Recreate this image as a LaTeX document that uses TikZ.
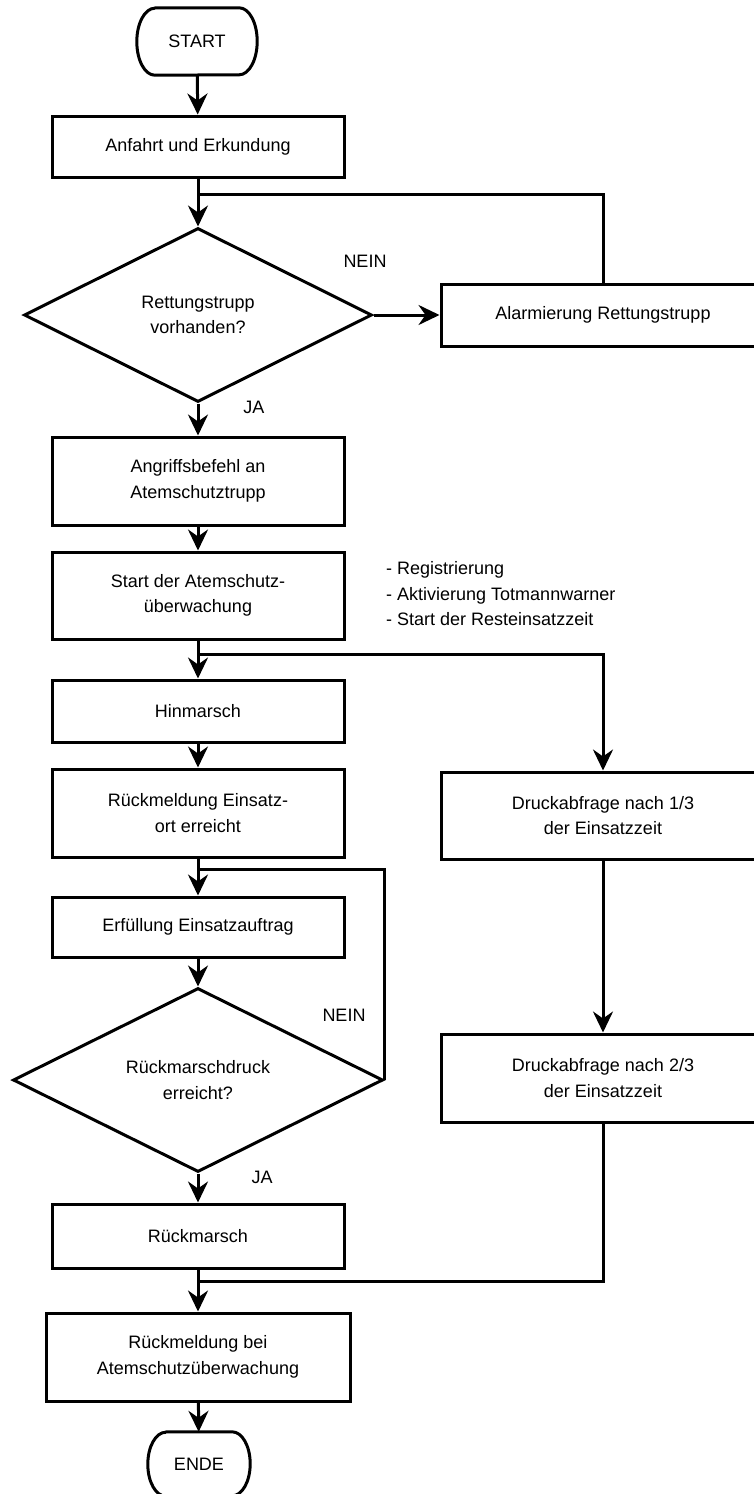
\documentclass[tikz,border=0pt]{standalone}
\usepackage{fontspec}
\setmainfont{Liberation Sans}
\usetikzlibrary{arrows.meta,shapes.geometric}
\begin{document}
\begin{tikzpicture}[x=1pt,y=-1pt,
  txt/.style={font=\fontsize{18}{25.5}\selectfont},
  box/.style={txt, draw, rectangle, line width=3pt, minimum width=292pt, inner sep=0pt, align=center},
  term/.style={txt, rectangle, inner sep=0pt},
  dec/.style={txt, draw, diamond, line width=3pt, inner sep=0pt, align=center},
  lbl/.style={txt, inner sep=0pt},
  arr/.style={-{Stealth[length=21pt,width=20pt,inset=7pt]}, line width=3pt},
  ln/.style={line width=3pt}]
\fill[white] (0,0) rectangle (754,1494);
\useasboundingbox (0,0) rectangle (754,1494);
\clip (0,0) rectangle (754,1494);

% main column
\node[term, minimum width=120pt, minimum height=67pt] (start) at (197,41.5) {START};
\node[box, minimum height=61pt] (anf) at (198,146.5) {Anfahrt und Erkundung};
\node[dec, minimum width=348pt, minimum height=174pt] (d1) at (198,315) {Rettungstrupp\\vorhanden?};
\node[box, minimum height=88pt] (ang) at (198,481) {Angriffsbefehl an\\Atemschutztrupp};
\node[box, minimum height=87pt] (sta) at (198,595.5) {Start der Atemschutz-\\überwachung};
\node[box, minimum height=62pt] (hin) at (198,711) {Hinmarsch};
\node[box, minimum height=88pt] (rme) at (198,813) {Rückmeldung Einsatz-\\ort erreicht};
\node[box, minimum height=60pt] (erf) at (198,927) {Erfüllung Einsatzauftrag};
\node[dec, minimum width=370pt, minimum height=184pt] (d2) at (198,1080) {Rückmarschdruck\\erreicht?};
\node[box, minimum height=64pt] (rm) at (198,1236) {Rückmarsch};
\node[box, minimum width=304pt, minimum height=88pt] (rmb) at (198,1357) {Rückmeldung bei\\Atemschutzüberwachung};
\node[term, minimum width=102pt, minimum height=64pt] (ende) at (199,1464) {ENDE};

% terminator outlines (elliptic ends)
\foreach \t/\ry in {start/33.5, ende/32}{
  \draw[ln, line join=round]
    ([xshift=18pt]\t.north west) -- ([xshift=-18pt]\t.north east)
    arc[start angle=90, end angle=-90, x radius=18pt, y radius=\ry pt]
    -- ([xshift=18pt]\t.south west)
    arc[start angle=270, end angle=90, x radius=18pt, y radius=\ry pt]
    -- cycle;
}

% right column
\node[box, minimum width=324pt, minimum height=62pt] (alarm) at (603,315) {Alarmierung Rettungstrupp};
\node[box, minimum width=324pt, minimum height=87pt] (dr1) at (603,815.5) {Druckabfrage nach 1/3\\der Einsatzzeit};
\node[box, minimum width=324pt, minimum height=88pt] (dr2) at (603,1078) {Druckabfrage nach 2/3\\der Einsatzzeit};

% notes and labels
\node[lbl, anchor=west, align=left] (notes) at (386,594) {- Registrierung\\- Aktivierung Totmannwarner\\- Start der Resteinsatzzeit};
\node[lbl] (nein1) at (365,261) {NEIN};
\node[lbl] (ja1) at (254,407) {JA};
\node[lbl] (nein2) at (344,1015) {NEIN};
\node[lbl] (ja2) at (262,1177) {JA};

% junction coordinates
\coordinate (j1) at (198,194);
\coordinate (j2) at (198,654);
\coordinate (j3) at (198,869);
\coordinate (j4) at (198,1281);

% connectors
\draw[arr] (start) -- (anf);
\draw[arr] (anf) -- (d1);
\draw[ln] (j1) -| (alarm.north);
\draw[arr] (d1.east) -- (alarm.west);
\draw[arr] (d1.south) -- (ang);
\draw[arr] (ang) -- (sta);
\draw[arr] (sta) -- (hin);
\draw[arr] (j2) -| (dr1.north);
\draw[arr] (hin) -- (rme);
\draw[arr] (rme) -- (erf);
\draw[ln] (d2.east) |- (j3);
\draw[arr] (erf) -- (d2.north);
\draw[arr] (d2.south) -- (rm);
\draw[arr] (dr1) -- (dr2);
\draw[ln] (dr2.south) |- (j4);
\draw[arr] (rm) -- (rmb);
\draw[arr] (rmb) -- (ende);
\end{tikzpicture}
\end{document}
